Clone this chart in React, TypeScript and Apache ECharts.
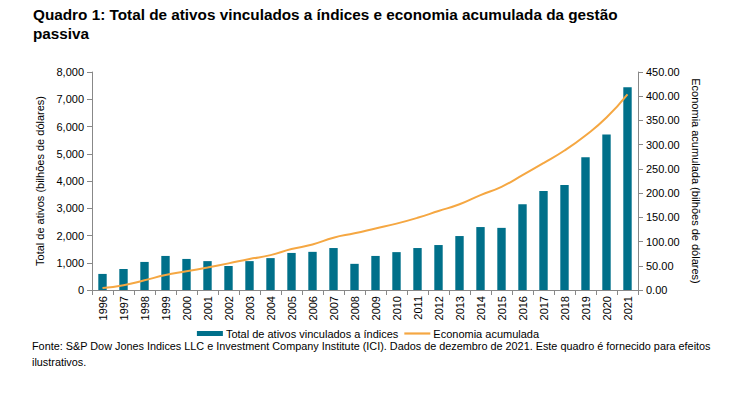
import React, { useEffect, useRef } from "react";
import * as echarts from "echarts";

const years = ["1996","1997","1998","1999","2000","2001","2002","2003","2004","2005","2006","2007","2008","2009","2010","2011","2012","2013","2014","2015","2016","2017","2018","2019","2020","2021"];
const totalAssets = [590,770,1030,1250,1140,1060,880,1060,1170,1360,1400,1540,960,1250,1390,1540,1650,1980,2310,2280,3150,3630,3850,4870,5710,7440];
const savings = [4,10,20,31,38.5,46.5,55,64,72,84.5,94,108,117,127,137,149,163,177,196,213,237,262,288,319,356,404];
const leftTicks = { min: 0, max: 8000, interval: 1000 };
const rightTicks = { min: 0, max: 450, interval: 50 };

const FONT = "Liberation Sans, Arial, sans-serif";

export default function App() {
  const ref = useRef<HTMLDivElement>(null);
  useEffect(() => {
    if (!ref.current) return;
    const chart = echarts.init(ref.current, undefined, { renderer: "svg" });
    chart.setOption({
      animation: false,
      backgroundColor: "#fff",
      textStyle: { fontFamily: FONT },
      title: {
        text: "Quadro 1: Total de ativos vinculados a índices e economia acumulada da gestão\npassiva",
        left: 28,
        top: 0,
        textStyle: { fontFamily: FONT, fontSize: 15.3, fontWeight: "bold", color: "#000", lineHeight: 19 },
      },
      graphic: [
        {
          type: "text",
          left: 32,
          top: 338,
          style: {
            text: "Fonte: S&P Dow Jones Indices LLC e Investment Company Institute (ICI). Dados de dezembro de 2021. Este quadro é fornecido para efeitos\nilustrativos.",
            font: `10.85px ${FONT}`,
            fill: "#000",
            lineHeight: 16,
          },
        },
      ],
      legend: {
        bottom: 51,
        left: "center",
        itemWidth: 26,
        itemHeight: 5,
        itemGap: 6,
        textStyle: { fontFamily: FONT, fontSize: 11, color: "#000", padding: [0, 0, 0, -2] },
        data: [
          { name: "Total de ativos vinculados a índices", icon: "rect" },
          { name: "Economia acumulada", icon: "path://M0,0 L26,0 L26,2.2 L0,2.2 Z" },
        ],
      },
      grid: { left: 92, right: 98, top: 72, bottom: 105 },
      xAxis: {
        type: "category",
        data: years,
        axisLine: { lineStyle: { color: "#888" } },
        axisTick: { show: true, lineStyle: { color: "#888" } },
        axisLabel: { rotate: 90, color: "#000", fontSize: 11, fontFamily: FONT, margin: 6 },
      },
      yAxis: [
        {
          type: "value",
          ...leftTicks,
          name: "Total de ativos (bilhões de dólares)",
          nameLocation: "middle",
          nameGap: 46,
          nameRotate: 90,
          nameTextStyle: { color: "#000", fontSize: 11, fontFamily: FONT },
          axisLine: { show: true, lineStyle: { color: "#888" } },
          axisTick: { show: true, lineStyle: { color: "#888" } },
          splitLine: { show: false },
          axisLabel: {
            color: "#000",
            fontSize: 11,
            fontFamily: FONT,
            formatter: (v: number) => v.toLocaleString("en-US"),
          },
        },
        {
          type: "value",
          ...rightTicks,
          position: "right",
          name: "Economia acumulada (bilhões de dólares)",
          nameLocation: "middle",
          nameGap: 49,
          nameRotate: -90,
          nameTextStyle: { color: "#000", fontSize: 11, fontFamily: FONT },
          axisLine: { show: true, lineStyle: { color: "#888" } },
          axisTick: { show: true, lineStyle: { color: "#888" } },
          splitLine: { show: false },
          axisLabel: {
            color: "#000",
            fontSize: 11,
            fontFamily: FONT,
            formatter: (v: number) => v.toFixed(2),
          },
        },
      ],
      series: [
        {
          name: "Total de ativos vinculados a índices",
          type: "bar",
          data: totalAssets,
          barWidth: "40%",
          itemStyle: { color: "#00708A" },
        },
        {
          name: "Economia acumulada",
          type: "line",
          yAxisIndex: 1,
          data: savings,
          smooth: true,
          symbol: "none",
          lineStyle: { color: "#F5A742", width: 2 },
          itemStyle: { color: "#F5A742" },
        },
      ],
    });
    return () => chart.dispose();
  }, []);
  return <div ref={ref} style={{ width: 736, height: 395, position: "absolute", left: 0, top: 0 }} />;
}
